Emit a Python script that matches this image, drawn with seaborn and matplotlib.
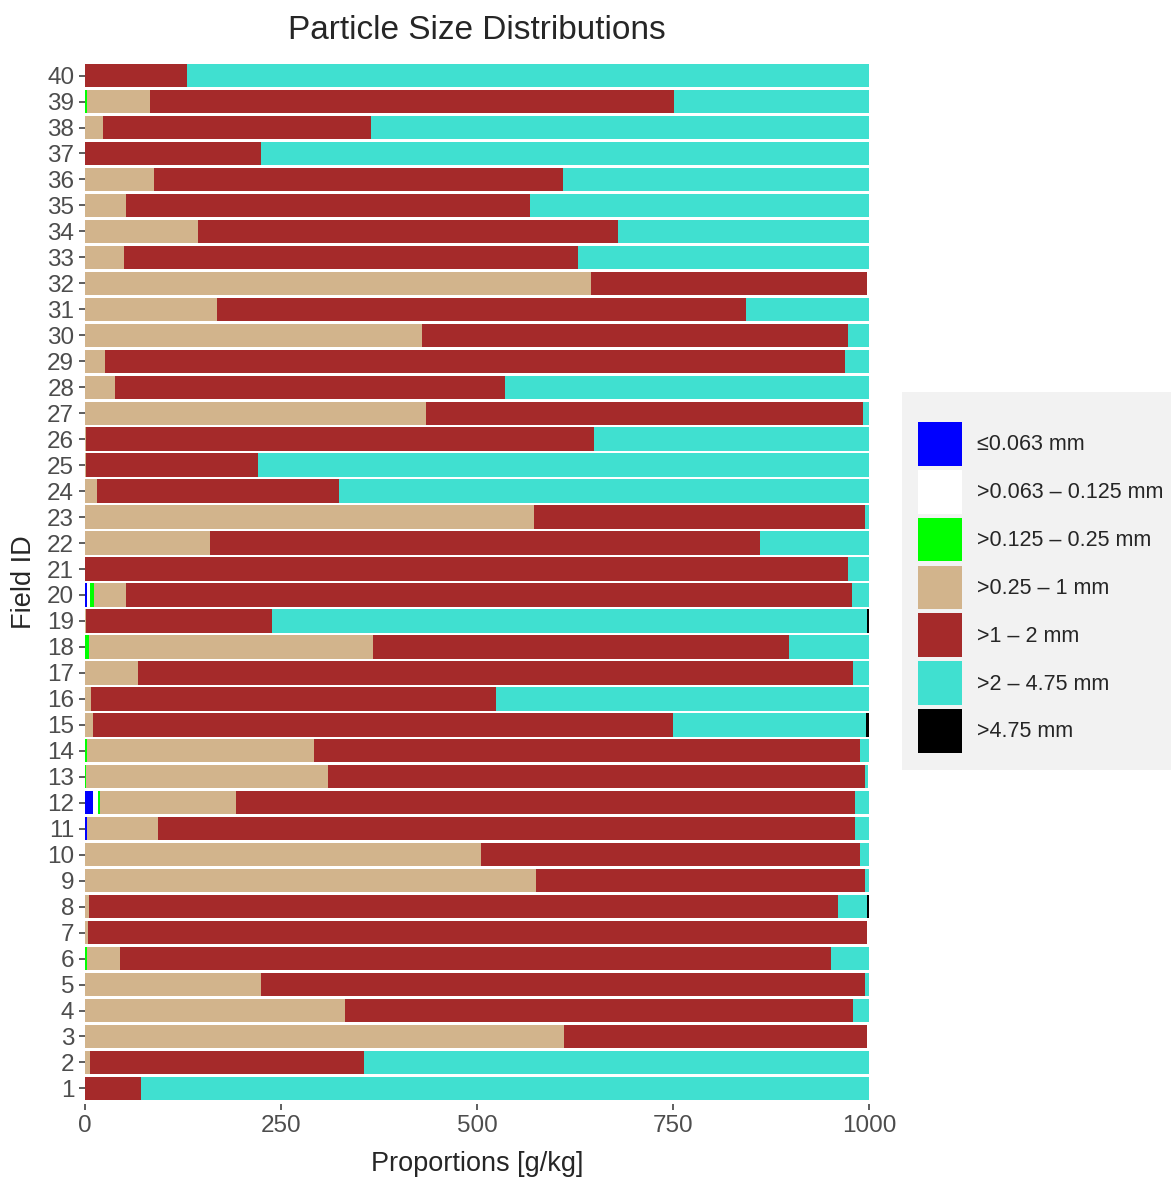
import numpy as np
import pandas as pd
import seaborn as sns
import matplotlib.pyplot as plt
from matplotlib.patches import Patch, Rectangle

sns.set_style("white")
plt.rcParams["font.family"] = ["Liberation Sans", "DejaVu Sans"]

# particle size fractions per field (g/kg), field 1..40
fields = [str(i) for i in range(1, 41)]
classes = ["\u22640.063 mm", ">0.063 \u2013 0.125 mm", ">0.125 \u2013 0.25 mm",
           ">0.25 \u2013 1 mm", ">1 \u2013 2 mm", ">2 \u2013 4.75 mm", ">4.75 mm"]
colors = ["#0000FF", "#FFFFFF", "#00FF00", "#D2B48C", "#A52A2A", "#40E0D0", "#000000"]

blue = [0, 0, 0, 0, 0, 0, 0, 0, 0, 0, 2, 10, 0, 0, 0, 0, 0, 0, 0, 2,
        0, 0, 0, 0, 0, 0, 0, 0, 0, 0, 0, 0, 0, 0, 0, 0, 0, 0, 0, 0]
white = [0, 0, 0, 0, 0, 0, 0, 0, 0, 0, 0, 6, 0, 0, 0, 0, 0, 0, 0, 4,
         0, 0, 0, 0, 0, 0, 0, 0, 0, 0, 0, 0, 0, 0, 0, 0, 0, 0, 0, 0]
green = [0, 0, 0, 0, 0, 2, 0, 0, 0, 0, 0, 3, 1, 2, 0, 0, 0, 5, 0, 6,
         0, 0, 0, 0, 0, 0, 0, 0, 0, 0, 0, 0, 0, 0, 0, 0, 0, 0, 2, 0]
tan = [0, 6, 611, 332, 225, 43, 4, 5, 575, 505, 91, 173, 309, 290, 10, 8, 67, 362, 1, 40,
       0, 160, 573, 15, 1, 1, 435, 38, 26, 430, 168, 645, 50, 144, 52, 88, 0, 23, 81, 0]
red = [71, 350, 386, 648, 770, 906, 993, 955, 420, 484, 889, 790, 685, 696, 740, 516, 913, 531, 237, 926,
       973, 701, 422, 309, 220, 648, 557, 498, 943, 543, 675, 352, 579, 536, 516, 522, 224, 342, 668, 130]
turq = [929, 644, 0, 20, 5, 49, 0, 37, 5, 11, 18, 18, 4, 12, 246, 476, 20, 102, 759, 22,
        27, 139, 5, 676, 779, 351, 8, 464, 31, 27, 157, 0, 371, 320, 432, 390, 776, 635, 249, 870]
black = [0, 0, 0, 0, 0, 0, 0, 3, 0, 0, 0, 0, 0, 0, 4, 0, 0, 0, 3, 0,
         0, 0, 0, 0, 0, 0, 0, 0, 0, 0, 0, 0, 0, 0, 0, 0, 0, 0, 0, 0]

df = pd.DataFrame(np.array([blue, white, green, tan, red, turq, black]).T,
                  columns=classes)
cum = df.cumsum(axis=1)
cum["Field"] = fields

order = fields[::-1]

fig = plt.figure(figsize=(11.71, 11.84), dpi=100)
ax = fig.add_axes([85 / 1171, 1 - 1104 / 1184, 784 / 1171, 1044 / 1184])

# overlay cumulative bars, outermost first
for cl, col in reversed(list(zip(classes, colors))):
    sns.barplot(data=cum, x=cl, y="Field", order=order, orient="h", color=col,
                saturation=1, width=0.9, linewidth=0, errorbar=None, ax=ax)

ax.set_xlim(0, 1000)
ax.set_ylim(39.6, -0.6)
ax.set_xticks([0, 250, 500, 750, 1000])
ax.tick_params(axis="both", left=True, bottom=True, length=4.3, width=1.1, color="#333333",
               labelcolor="#4D4D4D", labelsize=17.5, pad=3.5)
for s in ax.spines.values():
    s.set_visible(False)
ax.set_xlabel("Proportions [g/kg]", fontsize=19.5, labelpad=10)
ax.set_ylabel("Field ID", fontsize=19.5, labelpad=7)
ax.set_title("Particle Size Distributions", fontsize=24, pad=15)

# legend background panel
fig.patches.append(Rectangle((902 / 1171, 1 - 770 / 1184), 269 / 1171, 378 / 1184,
                             transform=fig.transFigure, facecolor="#F2F2F2",
                             edgecolor="none", zorder=0))
handles = [Patch(facecolor=c, edgecolor="none") for c in colors]
leg = fig.legend(handles, classes, loc="upper left", bbox_to_anchor=(918 / 1171, 1 - 422 / 1184),
                 fontsize=15.5, frameon=False, handlelength=2.05, handleheight=2.75,
                 labelspacing=0.19, handletextpad=0.7, borderpad=0, borderaxespad=0)

fig.savefig("out.png", dpi=100)
